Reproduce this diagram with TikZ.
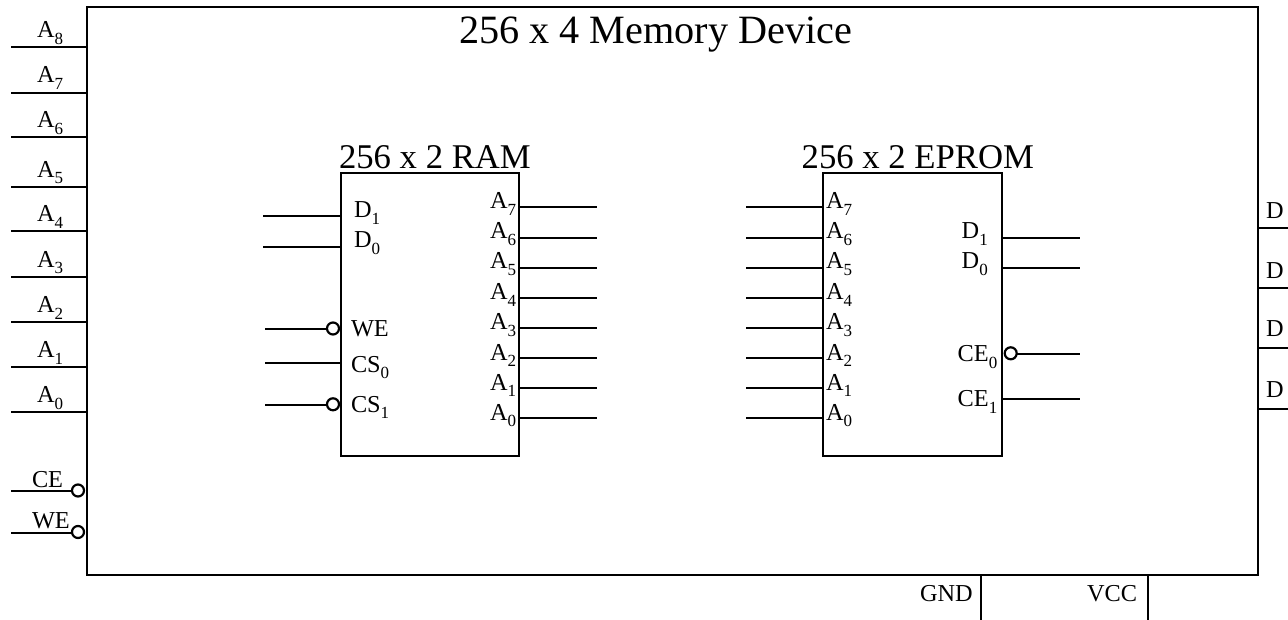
\documentclass[tikz,border=0pt]{standalone}
\usepackage{fontspec}
\setmainfont{Liberation Serif}
\usepackage{tikz}
\usetikzlibrary{calc}

\newcommand{\pinsub}[1]{\raisebox{-6.5pt}{\fontsize{17}{17}\selectfont #1}}

\tikzset{
  wire/.style={line width=2pt},
  frame/.style={draw,line width=2pt,inner sep=0pt,outer sep=0pt},
  bubble/.style={circle,draw,fill=white,line width=2.2pt,minimum size=12pt,inner sep=0pt,outer sep=0pt},
  pinlabel/.style={anchor=base west,inner sep=0pt,outer sep=0pt,font=\fontsize{24.3}{24}\selectfont},
  chiptitle/.style={anchor=base west,inner sep=0pt,outer sep=0pt,font=\fontsize{34.7}{36}\selectfont}
}

\begin{document}
\begin{tikzpicture}[x=1pt,y=-1pt]
\useasboundingbox (0,0) rectangle (1288,620);

\node (device) at (672.3,291) [frame,minimum width=1171.3pt,minimum height=568pt] {};	% device frame
\node (ram) at (430,314.5) [frame,minimum width=178.5pt,minimum height=283pt] {};		% RAM
\node (eprom) at (912.4,314.5) [frame,minimum width=178.7pt,minimum height=283pt] {};	% EPROM

\node (devicetitle) at (459,43.5) [anchor=base west,inner sep=0pt,font=\fontsize{40.2}{42}\selectfont] {256 x 4 Memory Device};
\node (ramtitle) at (339,169) [chiptitle] {256 x 2 RAM};
\node (epromtitle) at (801.7,169) [chiptitle] {256 x 2 EPROM};

% device address pins
\node (a8) at (37,38) [pinlabel] {A\pinsub{8}}; \coordinate (a8end) at (11,47.5); \draw[wire] (a8end) -- (a8end -| device.west);
\node (a7) at (37,83) [pinlabel] {A\pinsub{7}}; \coordinate (a7end) at (11,92.7); \draw[wire] (a7end) -- (a7end -| device.west);
\node (a6) at (37,128) [pinlabel] {A\pinsub{6}}; \coordinate (a6end) at (11,137.5); \draw[wire] (a6end) -- (a6end -| device.west);
\node (a5) at (37,177.5) [pinlabel] {A\pinsub{5}}; \coordinate (a5end) at (11,187); \draw[wire] (a5end) -- (a5end -| device.west);
\node (a4) at (37,222) [pinlabel] {A\pinsub{4}}; \coordinate (a4end) at (11,231.5); \draw[wire] (a4end) -- (a4end -| device.west);
\node (a3) at (37,267.5) [pinlabel] {A\pinsub{3}}; \coordinate (a3end) at (11,277); \draw[wire] (a3end) -- (a3end -| device.west);
\node (a2) at (37,312.5) [pinlabel] {A\pinsub{2}}; \coordinate (a2end) at (11,322); \draw[wire] (a2end) -- (a2end -| device.west);
\node (a1) at (37,357.5) [pinlabel] {A\pinsub{1}}; \coordinate (a1end) at (11,367); \draw[wire] (a1end) -- (a1end -| device.west);
\node (a0) at (37,402.5) [pinlabel] {A\pinsub{0}}; \coordinate (a0end) at (11,412); \draw[wire] (a0end) -- (a0end -| device.west);

% device control pins
\node (ce) at (32,487) [pinlabel] {CE}; \node (cebub) at (78,490.5) [bubble] {}; \coordinate (ceend) at (11,491); \draw[wire] (ceend) -- (ceend -| cebub.west);
\node (we) at (32,528) [pinlabel] {WE}; \node (webub) at (78,532) [bubble] {}; \coordinate (weend) at (11,532.5); \draw[wire] (weend) -- (weend -| webub.west);

% device data pins, cut off at the edge
\node (d3) at (1266,219) [pinlabel] {D}; \coordinate (d3end) at (1288,228); \draw[wire] (device.east |- d3end) -- (d3end);
\node (d2) at (1266,279) [pinlabel] {D}; \coordinate (d2end) at (1288,288); \draw[wire] (device.east |- d2end) -- (d2end);
\node (d1) at (1266,337) [pinlabel] {D}; \coordinate (d1end) at (1288,348); \draw[wire] (device.east |- d1end) -- (d1end);
\node (d0) at (1266,397) [pinlabel] {D}; \coordinate (d0end) at (1288,408.5); \draw[wire] (device.east |- d0end) -- (d0end);

% supply
\node (gnd) at (920,601) [pinlabel] {GND}; \coordinate (gndend) at (981,620); \draw[wire] (gndend |- device.south) -- (gndend);
\node (vcc) at (1087,601) [pinlabel] {VCC}; \coordinate (vccend) at (1148,620); \draw[wire] (vccend |- device.south) -- (vccend);

% RAM left side
\node (ramd1) at (354,218) [pinlabel] {D\pinsub{1}}; \coordinate (ramd1end) at (263,216.3); \draw[wire] (ramd1end) -- (ramd1end -| ram.west);
\node (ramd0) at (354,248) [pinlabel] {D\pinsub{0}}; \coordinate (ramd0end) at (263,246.7); \draw[wire] (ramd0end) -- (ramd0end -| ram.west);
\node (ramwe) at (351,337) [pinlabel] {WE}; \node (ramwebub) at (333,328.5) [bubble] {}; \coordinate (ramweend) at (265,329); \draw[wire] (ramweend) -- (ramweend -| ramwebub.west);
\node (ramcs0) at (351,372) [pinlabel] {CS\pinsub{0}}; \coordinate (ramcs0end) at (265,362.7); \draw[wire] (ramcs0end) -- (ramcs0end -| ram.west);
\node (ramcs1) at (351,412) [pinlabel] {CS\pinsub{1}}; \node (ramcs1bub) at (333,404.3) [bubble] {}; \coordinate (ramcs1end) at (265,404.7); \draw[wire] (ramcs1end) -- (ramcs1end -| ramcs1bub.west);

% RAM right side
\node (rama7) at (490,209) [pinlabel] {A\pinsub{7}}; \coordinate (rama7end) at (597,207.5); \draw[wire] (rama7end -| ram.east) -- (rama7end);
\node (rama6) at (490,239) [pinlabel] {A\pinsub{6}}; \coordinate (rama6end) at (597,237.7); \draw[wire] (rama6end -| ram.east) -- (rama6end);
\node (rama5) at (490,269) [pinlabel] {A\pinsub{5}}; \coordinate (rama5end) at (597,267.7); \draw[wire] (rama5end -| ram.east) -- (rama5end);
\node (rama4) at (490,300) [pinlabel] {A\pinsub{4}}; \coordinate (rama4end) at (597,298); \draw[wire] (rama4end -| ram.east) -- (rama4end);
\node (rama3) at (490,330) [pinlabel] {A\pinsub{3}}; \coordinate (rama3end) at (597,328); \draw[wire] (rama3end -| ram.east) -- (rama3end);
\node (rama2) at (490,360) [pinlabel] {A\pinsub{2}}; \coordinate (rama2end) at (597,358); \draw[wire] (rama2end -| ram.east) -- (rama2end);
\node (rama1) at (490,390) [pinlabel] {A\pinsub{1}}; \coordinate (rama1end) at (597,388); \draw[wire] (rama1end -| ram.east) -- (rama1end);
\node (rama0) at (490,420) [pinlabel] {A\pinsub{0}}; \coordinate (rama0end) at (597,418.3); \draw[wire] (rama0end -| ram.east) -- (rama0end);

% EPROM left side
\node (epa7) at (826,209) [pinlabel] {A\pinsub{7}}; \coordinate (epa7end) at (746,207.5); \draw[wire] (epa7end) -- (epa7end -| eprom.west);
\node (epa6) at (826,239) [pinlabel] {A\pinsub{6}}; \coordinate (epa6end) at (746,237.7); \draw[wire] (epa6end) -- (epa6end -| eprom.west);
\node (epa5) at (826,269) [pinlabel] {A\pinsub{5}}; \coordinate (epa5end) at (746,267.7); \draw[wire] (epa5end) -- (epa5end -| eprom.west);
\node (epa4) at (826,300) [pinlabel] {A\pinsub{4}}; \coordinate (epa4end) at (746,298); \draw[wire] (epa4end) -- (epa4end -| eprom.west);
\node (epa3) at (826,330) [pinlabel] {A\pinsub{3}}; \coordinate (epa3end) at (746,328); \draw[wire] (epa3end) -- (epa3end -| eprom.west);
\node (epa2) at (826,360) [pinlabel] {A\pinsub{2}}; \coordinate (epa2end) at (746,358); \draw[wire] (epa2end) -- (epa2end -| eprom.west);
\node (epa1) at (826,390) [pinlabel] {A\pinsub{1}}; \coordinate (epa1end) at (746,388); \draw[wire] (epa1end) -- (epa1end -| eprom.west);
\node (epa0) at (826,420) [pinlabel] {A\pinsub{0}}; \coordinate (epa0end) at (746,418.3); \draw[wire] (epa0end) -- (epa0end -| eprom.west);

% EPROM right side
\node (epd1) at (961.7,239) [pinlabel] {D\pinsub{1}}; \coordinate (epd1end) at (1080,237.7); \draw[wire] (epd1end -| eprom.east) -- (epd1end);
\node (epd0) at (961.7,269) [pinlabel] {D\pinsub{0}}; \coordinate (epd0end) at (1080,267.7); \draw[wire] (epd0end -| eprom.east) -- (epd0end);
\node (epce0) at (957.7,361.7) [pinlabel] {CE\pinsub{0}}; \node (epce0bub) at (1010.7,353.3) [bubble] {}; \coordinate (epce0end) at (1080,354); \draw[wire] (epce0end -| epce0bub.east) -- (epce0end);
\node (epce1) at (957.7,406.7) [pinlabel] {CE\pinsub{1}}; \coordinate (epce1end) at (1080,399.3); \draw[wire] (epce1end -| eprom.east) -- (epce1end);

\end{tikzpicture}
\end{document}
